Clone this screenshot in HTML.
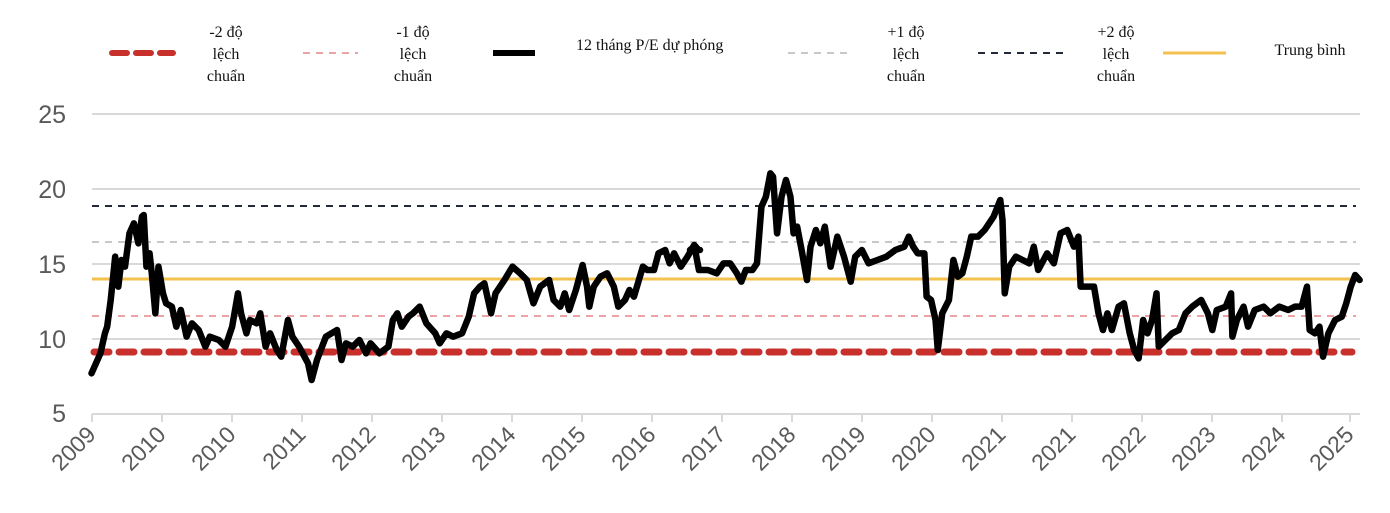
<!DOCTYPE html>
<html><head><meta charset="utf-8"><style>
html,body{margin:0;padding:0;background:#fff;}
svg{display:block;}
.lg{font-family:"Liberation Serif",serif;font-size:16px;fill:#111;}
.ya{font-family:"Liberation Sans",sans-serif;font-size:25px;fill:#595959;}
.xa{font-family:"Liberation Sans",sans-serif;font-size:23px;fill:#595959;}
</style></head><body>
<svg width="1390" height="513" viewBox="0 0 1390 513">
<!-- legend -->
<line x1="112" y1="53" x2="173" y2="53" stroke="#c8302c" stroke-width="6" stroke-dasharray="15 9" stroke-linecap="round"/>
<text class="lg" text-anchor="middle" x="226" y="37">-2 độ</text>
<text class="lg" text-anchor="middle" x="226" y="59">lệch</text>
<text class="lg" text-anchor="middle" x="226" y="81">chuẩn</text>
<line x1="303" y1="53" x2="358" y2="53" stroke="#eba3a6" stroke-width="2" stroke-dasharray="7 6"/>
<text class="lg" text-anchor="middle" x="413" y="37">-1 độ</text>
<text class="lg" text-anchor="middle" x="413" y="59">lệch</text>
<text class="lg" text-anchor="middle" x="413" y="81">chuẩn</text>
<line x1="493" y1="53" x2="535" y2="53" stroke="#000" stroke-width="6"/>
<text class="lg" x="576" y="50">12 tháng P/E dự phóng</text>
<line x1="788" y1="53" x2="852" y2="53" stroke="#c8c8c8" stroke-width="2" stroke-dasharray="7 6"/>
<text class="lg" text-anchor="middle" x="906" y="37">+1 độ</text>
<text class="lg" text-anchor="middle" x="906" y="59">lệch</text>
<text class="lg" text-anchor="middle" x="906" y="81">chuẩn</text>
<line x1="978" y1="53" x2="1065" y2="53" stroke="#222a3a" stroke-width="2" stroke-dasharray="7 6"/>
<text class="lg" text-anchor="middle" x="1116" y="37">+2 độ</text>
<text class="lg" text-anchor="middle" x="1116" y="59">lệch</text>
<text class="lg" text-anchor="middle" x="1116" y="81">chuẩn</text>
<line x1="1163" y1="53" x2="1226" y2="53" stroke="#f2c14e" stroke-width="3"/>
<text class="lg" text-anchor="middle" x="1310" y="55">Trung bình</text>

<!-- grid -->
<g stroke="#d9d9d9" stroke-width="2">
<line x1="92" y1="114" x2="1360" y2="114"/>
<line x1="92" y1="189" x2="1360" y2="189"/>
<line x1="92" y1="264" x2="1360" y2="264"/>
<line x1="92" y1="339" x2="1360" y2="339"/>
<line x1="92" y1="414" x2="1360" y2="414"/>
<line x1="92" y1="414" x2="92" y2="422"/><line x1="162" y1="414" x2="162" y2="422"/><line x1="232" y1="414" x2="232" y2="422"/><line x1="302" y1="414" x2="302" y2="422"/><line x1="372" y1="414" x2="372" y2="422"/><line x1="442" y1="414" x2="442" y2="422"/><line x1="512" y1="414" x2="512" y2="422"/><line x1="582" y1="414" x2="582" y2="422"/><line x1="652" y1="414" x2="652" y2="422"/><line x1="722" y1="414" x2="722" y2="422"/><line x1="792" y1="414" x2="792" y2="422"/><line x1="862" y1="414" x2="862" y2="422"/><line x1="932" y1="414" x2="932" y2="422"/><line x1="1002" y1="414" x2="1002" y2="422"/><line x1="1072" y1="414" x2="1072" y2="422"/><line x1="1142" y1="414" x2="1142" y2="422"/><line x1="1212" y1="414" x2="1212" y2="422"/><line x1="1282" y1="414" x2="1282" y2="422"/><line x1="1350" y1="414" x2="1350" y2="422"/>
</g>
<g class="ya" text-anchor="end">
<text x="66" y="123">25</text><text x="66" y="198">20</text><text x="66" y="273">15</text><text x="66" y="348">10</text><text x="66" y="422">5</text>
</g>
<g class="xa" text-anchor="end">
<text transform="translate(97,436) rotate(-45)">2009</text>
<text transform="translate(167,436) rotate(-45)">2010</text>
<text transform="translate(237,436) rotate(-45)">2010</text>
<text transform="translate(307,436) rotate(-45)">2011</text>
<text transform="translate(377,436) rotate(-45)">2012</text>
<text transform="translate(447,436) rotate(-45)">2013</text>
<text transform="translate(517,436) rotate(-45)">2014</text>
<text transform="translate(587,436) rotate(-45)">2015</text>
<text transform="translate(657,436) rotate(-45)">2016</text>
<text transform="translate(727,436) rotate(-45)">2017</text>
<text transform="translate(797,436) rotate(-45)">2018</text>
<text transform="translate(867,436) rotate(-45)">2019</text>
<text transform="translate(937,436) rotate(-45)">2020</text>
<text transform="translate(1007,436) rotate(-45)">2021</text>
<text transform="translate(1077,436) rotate(-45)">2021</text>
<text transform="translate(1147,436) rotate(-45)">2022</text>
<text transform="translate(1217,436) rotate(-45)">2023</text>
<text transform="translate(1287,436) rotate(-45)">2024</text>
<text transform="translate(1355,436) rotate(-45)">2025</text>
</g>

<!-- reference lines -->
<line x1="92" y1="206" x2="1356" y2="206" stroke="#222a3a" stroke-width="2" stroke-dasharray="7 6"/>
<line x1="92" y1="242" x2="1356" y2="242" stroke="#c8c8c8" stroke-width="2" stroke-dasharray="7 6"/>
<line x1="92" y1="316" x2="1356" y2="316" stroke="#eba3a6" stroke-width="2" stroke-dasharray="7 6"/>
<line x1="94" y1="352" x2="1352" y2="352" stroke="#c8302c" stroke-width="7" stroke-dasharray="15 10" stroke-linecap="round"/>
<line x1="92" y1="279" x2="1362" y2="279" stroke="#f2c14e" stroke-width="3"/>

<!-- series -->
<g fill="none" stroke="#000" stroke-width="6.5" stroke-linejoin="round" stroke-linecap="round">
<polyline vector-effect="non-scaling-stroke" transform="translate(0,100) scale(0.44643,0.33333)" points="205,820 215,790 225,760 235,700 240,680 248,600 258,470 265,560 272,480 280,500 290,400 300,370 310,430 318,350 322,345 328,500 335,460 340,520 348,640 355,500 365,580 372,610 385,620 395,680 405,630 418,710 430,670 445,690 460,740 470,710 490,720 505,740 520,680 533,580 540,640 552,700 560,660 575,670 583,640 595,740 605,700 620,750 630,770 645,660 655,710 670,740 690,790 698,840 710,780 730,710 755,690 765,780 775,730 790,740 805,720 820,760 830,730 850,760 870,740 880,660 890,640 900,680 915,650 925,640 940,620 955,670 975,700 985,730 1000,700 1015,710 1035,700 1050,650 1062,580 1075,560 1085,550 1100,640 1110,580 1130,540 1148,500 1165,520 1180,540 1195,610 1210,560 1230,540 1240,600 1255,620 1265,580 1275,630 1290,570 1305,495 1315,560 1320,620 1330,560 1345,530 1360,520 1375,560 1385,620 1400,600 1410,570 1420,590 1440,500 1450,510 1465,510 1475,460 1490,450 1500,490 1510,460 1525,500 1540,470 1555,435 1565,450 1568,450"/>
<polyline vector-effect="non-scaling-stroke" transform="translate(690,100) scale(0.44643,0.33333)" points="0,450 10,440 20,510 40,510 60,520 75,490 90,490 105,520 115,545 125,510 140,510 150,490 160,320 170,290 180,220 186,230 195,400 205,290 215,240 225,290 232,400 240,380 250,450 262,540 270,440 282,390 292,430 302,380 315,500 330,410 345,470 360,545 370,470 385,450 400,490 420,480 440,470 460,450 480,440 490,410 500,440 510,460 525,460 530,590 540,600 550,660 555,750 565,640 580,600 590,480 600,530 610,520 620,470 630,410 645,410 660,390 680,350 695,300 700,360 705,580 715,500 730,470 745,480 760,490 770,440 780,510 800,460 815,490 830,400 845,390 860,440 870,410 875,560 890,560 905,560 915,640 925,690 935,640 945,690 960,620 972,610 985,700 995,750 1005,775 1015,660 1025,700 1035,660 1045,580 1050,740 1065,720 1080,700 1095,690 1110,640 1125,620 1145,600 1160,640 1170,690 1180,630 1200,620 1212,580 1215,710 1225,660 1240,620 1250,680 1265,630 1285,620 1300,640 1320,620 1340,630 1355,620 1370,620 1382,560 1388,690 1400,700 1410,680 1418,770 1430,700 1445,660 1460,650 1470,610 1480,560 1490,525 1500,540"/>
</g>
</svg>
</body></html>
